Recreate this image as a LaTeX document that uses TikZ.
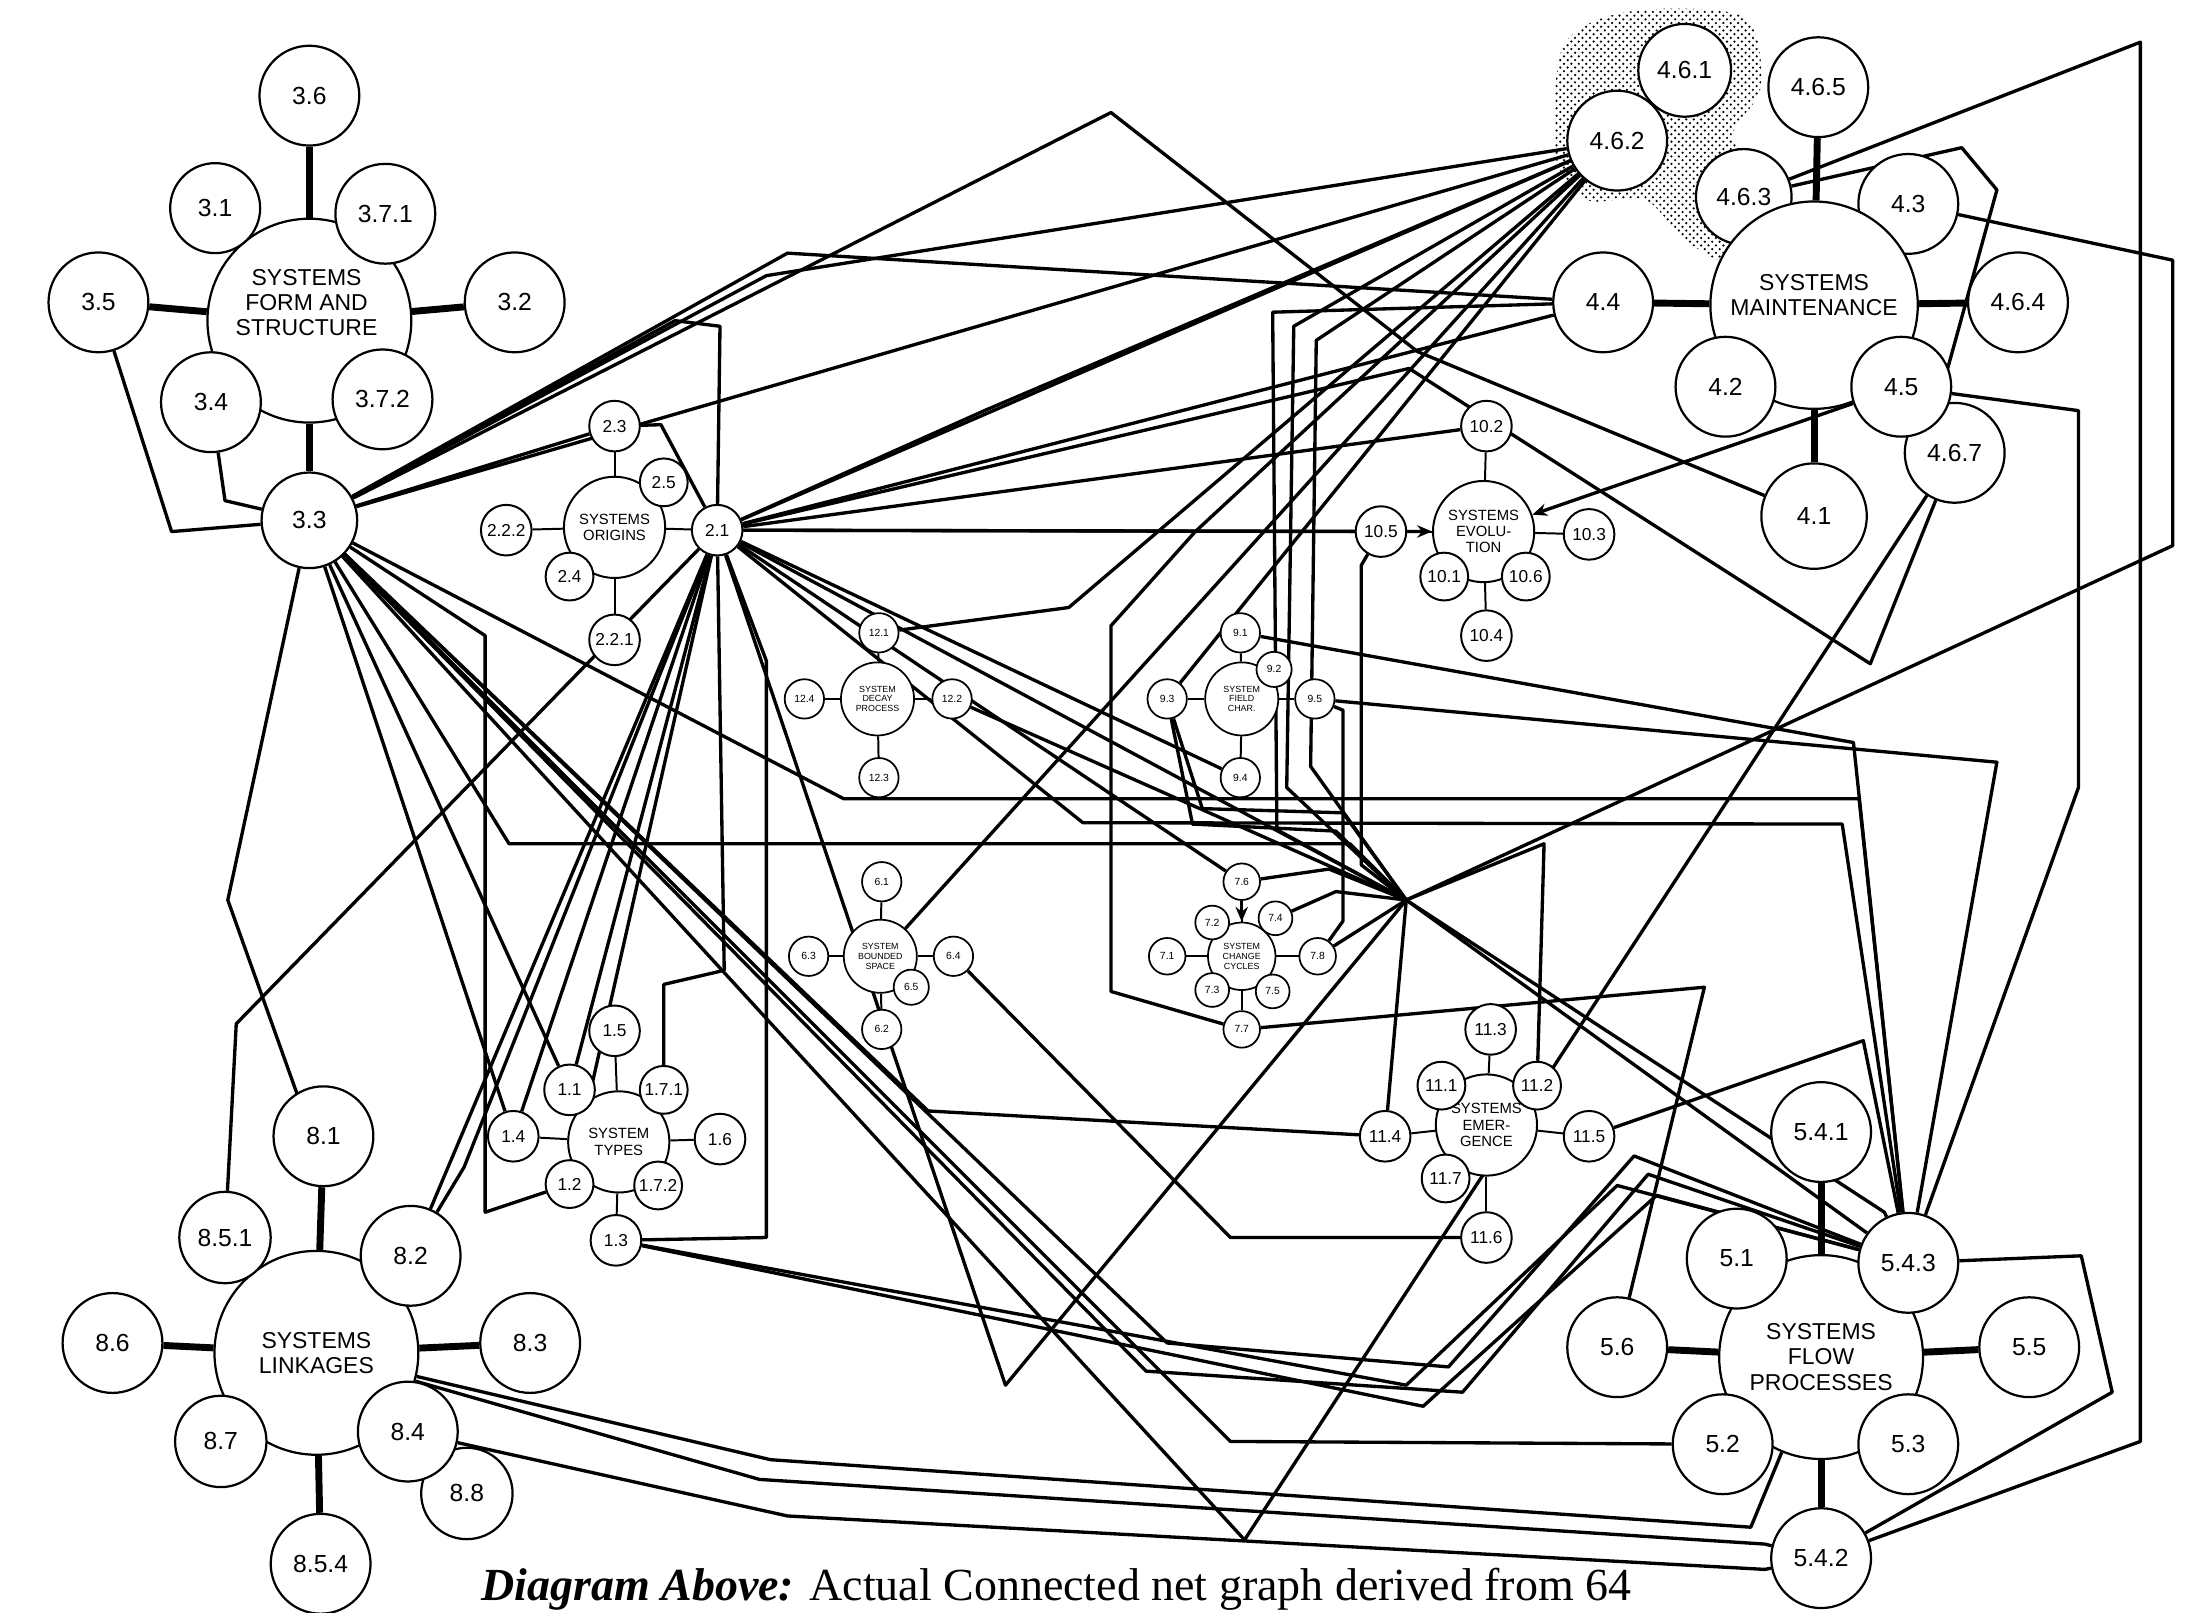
\documentclass[tikz,border=0pt]{standalone}
\usepackage{fontspec}
\setmainfont{Liberation Serif}
\newfontfamily\lblfont{Liberation Sans}
\usetikzlibrary{arrows.meta,patterns,backgrounds}

\tikzset{
  hubc/.style={circle, draw, fill=white, line width=0.9pt, minimum size=2.9cm,
               inner sep=0pt, align=center, font=\lblfont\fontsize{9.3}{10.2}\selectfont},
  hubtxt/.style={align=center, inner sep=0pt, font=\lblfont\fontsize{9.3}{10.2}\selectfont},
  satc/.style={circle, draw, fill=white, line width=0.9pt, minimum size=1.42cm,
               inner sep=0pt, font=\lblfont\fontsize{10}{10}\selectfont},
  midc/.style={circle, draw, fill=white, line width=0.8pt, minimum size=1.44cm,
               inner sep=0pt, align=center, font=\lblfont\fontsize{6}{6.6}\selectfont},
  midsat/.style={circle, draw, fill=white, line width=0.8pt, minimum size=0.72cm,
               inner sep=0pt, font=\lblfont\fontsize{7}{7}\selectfont},
  tinyc/.style={circle, draw, fill=white, line width=0.7pt, minimum size=1.04cm,
               inner sep=0pt, align=center, font=\lblfont\fontsize{3.6}{4}\selectfont},
  tinysat/.style={circle, draw, fill=white, line width=0.7pt, minimum size=0.56cm,
               inner sep=0pt, font=\lblfont\fontsize{4.2}{4.2}\selectfont},
  spoke/.style={line width=2.8pt},
  thinspoke/.style={line width=0.8pt},
  link/.style={line width=1.35pt, line join=round},
  linkarr/.style={link, -{Stealth[length=6pt, width=5pt]}},
}

\begin{document}
\begin{tikzpicture}[x=0.02cm, y=-0.02cm]
\useasboundingbox (0,0) rectangle (1568,1147);

% === Cluster 3: form and structure ===
\node[hubc] (n3) at (220,228) {};
\node[satc] (n3-6) at (220,68) {3.6};
\node[satc, minimum size=1.28cm] (n3-1) at (153,148) {3.1};
\node[satc] (n3-7-1) at (274,152) {3.7.1};
\node[satc] (n3-5) at (70,215) {3.5};
\node[satc] (n3-2) at (366,215) {3.2};
\node[satc] (n3-4) at (150,286) {3.4};
\node[satc] (n3-7-2) at (272,284) {3.7.2};
\node[satc, minimum size=1.36cm] (n3-3) at (220,370) {3.3};
\node[hubtxt] (n3t) at (218,215) {SYSTEMS\\FORM AND\\STRUCTURE};

% === Cluster 4: maintenance ===
\node[satc, minimum size=1.36cm] (n4-6-3) at (1240,140) {4.6.3};
\node[satc] (n4-3) at (1357,145) {4.3};
\node[hubc, minimum size=2.95cm] (n4) at (1290,217) {};
\node[hubtxt] (n4t) at (1290,210) {SYSTEMS\\MAINTENANCE};
\node[satc] (n4-6-5) at (1293,62) {4.6.5};
\node[satc, minimum size=1.32cm] (n4-6-1) at (1198,50) {4.6.1};
\node[satc] (n4-6-2) at (1150,100) {4.6.2};
\node[satc] (n4-4) at (1140,215) {4.4};
\node[satc] (n4-6-4) at (1435,215) {4.6.4};
\node[satc] (n4-6-7) at (1390,322) {4.6.7};
\node[satc] (n4-2) at (1227,275) {4.2};
\node[satc] (n4-5) at (1352,275) {4.5};
\node[satc, minimum size=1.5cm] (n4-1) at (1290,367) {4.1};

% === Cluster 5: flow processes ===
\node[hubc] (n5) at (1295,965) {SYSTEMS\\FLOW\\PROCESSES};
\node[satc] (n5-4-1) at (1295,805) {5.4.1};
\node[satc] (n5-1) at (1235,895) {5.1};
\node[satc] (n5-4-3) at (1357,898) {5.4.3};
\node[satc] (n5-6) at (1150,958) {5.6};
\node[satc] (n5-5) at (1443,958) {5.5};
\node[satc] (n5-2) at (1225,1027) {5.2};
\node[satc] (n5-3) at (1357,1027) {5.3};
\node[satc] (n5-4-2) at (1295,1108) {5.4.2};

% === Cluster 8: linkages ===
\node[hubc] (n8) at (225,962) {SYSTEMS\\LINKAGES};
\node[satc] (n8-1) at (230,808) {8.1};
\node[satc, minimum size=1.3cm] (n8-5-1) at (160,880) {8.5.1};
\node[satc] (n8-2) at (292,893) {8.2};
\node[satc] (n8-6) at (80,955) {8.6};
\node[satc] (n8-3) at (377,955) {8.3};
\node[satc, minimum size=1.3cm] (n8-7) at (157,1025) {8.7};
\node[satc, minimum size=1.3cm] (n8-8) at (332,1062) {8.8};
\node[satc] (n8-4) at (290,1018) {8.4};
\node[satc] (n8-5-4) at (228,1112) {8.5.4};

% === Cluster 2: origins ===
\node[midc] (n2) at (437,375) {SYSTEMS\\ORIGINS};
\node[midsat] (n2-3) at (437,303) {2.3};
\node[midsat, minimum size=0.68cm] (n2-5) at (472,343) {2.5};
\node[midsat] (n2-2-2) at (360,377) {2.2.2};
\node[midsat] (n2-1) at (510,377) {2.1};
\node[midsat, minimum size=0.68cm] (n2-4) at (405,410) {2.4};
\node[midsat] (n2-2-1) at (437,455) {2.2.1};

% === Cluster 10: evolution ===
\node[midc] (n10) at (1055,378) {SYSTEMS\\EVOLU-\\TION};
\node[midsat] (n10-2) at (1057,303) {10.2};
\node[midsat] (n10-5) at (982,378) {10.5};
\node[midsat] (n10-3) at (1130,380) {10.3};
\node[midsat, minimum size=0.68cm] (n10-1) at (1027,410) {10.1};
\node[midsat, minimum size=0.68cm] (n10-6) at (1085,410) {10.6};
\node[midsat] (n10-4) at (1057,452) {10.4};

% === Cluster 11: emergence ===
\node[midc] (n11) at (1057,800) {SYSTEMS\\EMER-\\GENCE};
\node[midsat] (n11-3) at (1060,732) {11.3};
\node[midsat, minimum size=0.68cm] (n11-1) at (1025,772) {11.1};
\node[midsat, minimum size=0.68cm] (n11-2) at (1093,772) {11.2};
\node[midsat] (n11-4) at (985,808) {11.4};
\node[midsat] (n11-5) at (1130,808) {11.5};
\node[midsat, minimum size=0.68cm] (n11-7) at (1028,838) {11.7};
\node[midsat] (n11-6) at (1057,880) {11.6};

% === Cluster 1: types ===
\node[midc] (n1) at (440,812) {SYSTEM\\TYPES};
\node[midsat] (n1-5) at (437,733) {1.5};
\node[midsat] (n1-1) at (405,775) {1.1};
\node[midsat, minimum size=0.68cm] (n1-7-1) at (472,775) {1.7.1};
\node[midsat] (n1-4) at (365,808) {1.4};
\node[midsat] (n1-6) at (512,810) {1.6};
\node[midsat, minimum size=0.68cm] (n1-2) at (405,842) {1.2};
\node[midsat, minimum size=0.68cm] (n1-7-2) at (468,843) {1.7.2};
\node[midsat] (n1-3) at (438,882) {1.3};

% === Small clusters 12, 9, 6, 7 ===
\node[tinyc] (n12) at (624,497) {SYSTEM\\DECAY\\PROCESS};
\node[tinysat] (n12-1) at (625,450) {12.1};
\node[tinysat] (n12-4) at (572,497) {12.4};
\node[tinysat] (n12-2) at (677,497) {12.2};
\node[tinysat] (n12-3) at (625,553) {12.3};

\node[tinyc] (n9) at (883,497) {SYSTEM\\FIELD\\CHAR.};
\node[tinysat] (n9-1) at (882,450) {9.1};
\node[tinysat, minimum size=0.5cm] (n9-2) at (906,476) {9.2};
\node[tinysat] (n9-3) at (830,497) {9.3};
\node[tinysat] (n9-5) at (935,497) {9.5};
\node[tinysat] (n9-4) at (882,553) {9.4};

\node[tinyc] (n6) at (626,680) {SYSTEM\\BOUNDED\\SPACE};
\node[tinysat] (n6-1) at (627,627) {6.1};
\node[tinysat] (n6-3) at (575,680) {6.3};
\node[tinysat] (n6-4) at (678,680) {6.4};
\node[tinysat, minimum size=0.5cm] (n6-5) at (648,702) {6.5};
\node[tinysat] (n6-2) at (627,732) {6.2};

\node[tinyc, minimum size=0.96cm] (n7) at (883,680) {SYSTEM\\CHANGE\\CYCLES};
\node[tinysat, minimum size=0.52cm] (n7-6) at (883,627) {7.6};
\node[tinysat, minimum size=0.48cm] (n7-2) at (862,656) {7.2};
\node[tinysat, minimum size=0.48cm] (n7-4) at (907,653) {7.4};
\node[tinysat, minimum size=0.52cm] (n7-1) at (830,680) {7.1};
\node[tinysat, minimum size=0.52cm] (n7-8) at (937,680) {7.8};
\node[tinysat, minimum size=0.48cm] (n7-3) at (862,704) {7.3};
\node[tinysat, minimum size=0.48cm] (n7-5) at (905,705) {7.5};
\node[tinysat, minimum size=0.52cm] (n7-7) at (883,732) {7.7};

\coordinate (hub) at (1000,640);

% === Spokes ===
\foreach \c/\s in {n3/n3-6, n3/n3-5, n3/n3-2, n3/n3-3, n4/n4-6-5, n4/n4-4, n4/n4-6-4, n4/n4-1,
                   n5/n5-4-1, n5/n5-6, n5/n5-5, n5/n5-4-2, n8/n8-1, n8/n8-6, n8/n8-3, n8/n8-5-4}
  \draw[spoke] (\c) -- (\s);
\foreach \c/\s in {n2/n2-3, n2/n2-2-2, n2/n2-1, n2/n2-2-1, n10/n10-2, n10/n10-5, n10/n10-3, n10/n10-4,
                   n11/n11-3, n11/n11-4, n11/n11-5, n11/n11-6, n1/n1-5, n1/n1-4, n1/n1-6, n1/n1-3,
                   n12/n12-1, n12/n12-4, n12/n12-2, n12/n12-3, n9/n9-1, n9/n9-3, n9/n9-5, n9/n9-4,
                   n6/n6-1, n6/n6-3, n6/n6-4, n6/n6-2, n7/n7-6, n7/n7-1, n7/n7-8, n7/n7-7}
  \draw[thinspoke] (\c) -- (\s);

\begin{scope}[on background layer]
% shaded patch round 4.6.1 / 4.6.2 / 4.6.3
\fill[pattern=crosshatch dots, pattern color=black]
  plot[smooth cycle] coordinates {(1112,32) (1160,8) (1240,12) (1252,62) (1232,98) (1266,122)
                                  (1280,172) (1242,192) (1200,172) (1170,142) (1128,142) (1106,110)};

% === Links from 3.3 ===
\draw[link] (n3-5) -- (122,378) -- (n3-3);
\draw[link] (n3-4) -- (160,356) -- (n3-3);
\draw[link] (n3-3) -- (162,640) -- (212,780) -- (n8-1);
\draw[link] (n3-3) -- (n4-6-2);
\draw[link] (n3-3) -- (545,196) -- (n4-6-2);
\draw[link] (n3-3) -- (560,180) -- (n4-4);
\draw[link] (n3-3) -- (790,80) -- (1008,250) -- (n4-1);
\draw[link] (n3-3) -- (480,228) -- (512,232) -- (n2-1);
\draw[link] (n2-3) -- (n3-3);
\draw[link] (n2-3) -- (470,302) -- (n2-1);
\draw[link] (n3-3) -- (n1-4);
\draw[link] (n3-3) -- (n1-1);
\draw[link] (n3-3) -- (345,452) -- (345,862) -- (n1-2);
\draw[link] (n3-3) -- (362,600) -- (960,600) -- (hub);
\draw[link] (n3-3) -- (600,568) -- (1322,568) -- (n5-4-3);
\draw[link] (n3-3) -- (660,790) -- (n11-4);
\draw[link] (n3-3) -- (875,1025) -- (n5-2);
\draw[link] (n3-3) -- (830,955) -- (1030,972) -- (1162,822) -- (n5-4-3);
\draw[link] (n3-3) -- (815,975) -- (1040,990) -- (1172,835) -- (n5-4-3);
\draw[link] (n3-3) -- (885,1095) -- (n4-6-7);

% === Links from 2.1 ===
\draw[link] (n2-1) -- (n4-6-2);
\draw[link] (n2-1) -- (700,292) -- (n4-6-2);
\draw[link] (n2-1) -- (n4-4);
\draw[link] (n2-1) -- (n10-2);
\draw[linkarr] (n2-1) -- (n10);
\draw[link] (n2-1) -- (n10-5);
\draw[link] (n2-1) -- (1002,262) -- (1330,472) -- (n4-6-7);
\draw[link] (n2-1) -- (715,985) -- (hub);
\draw[link] (n2-1) -- (hub) -- (n5-4-3);
\draw[link] (n2-1) -- (770,585) -- (1310,586) -- (n5-4-3);
\draw[link] (n2-1) -- (545,470) -- (545,880) -- (n1-3);
\draw[link] (n2-1) -- (515,690) -- (472,700) -- (n1-7-1);
\draw[link] (n2-1) -- (n7-6);
\draw[link] (n2-1) -- (n9-4);
\draw[link] (n2-1) -- (n8-2);
\draw[link] (n2-1) -- (330,830) -- (n8-2);
\draw[link] (n2-1) -- (168,728) -- (n8-5-1);
\draw[link] (n2-1) -- (n1-4);
\draw[link] (n2-1) -- (n1-1);
\draw[link] (n2-1) -- (n1-2);

% === Links from 4.x ===
\draw[link] (n4-6-2) -- (n6);
\draw[link] (n4-6-2) -- (n9-3);
\draw[link] (n4-6-2) -- (920,232) -- (915,560) -- (hub);
\draw[link] (n4-6-2) -- (936,242) -- (932,545) -- (hub);
\draw[link] (n4-6-2) -- (850,378) -- (790,445) -- (790,705) -- (n7-7);
\draw[link] (n4-6-2) -- (760,432) -- (n12-1);
\draw[link] (n4-4) -- (905,222) -- (908,590) -- (hub);
\draw[link] (n4-6-3) -- (1395,105) -- (1420,135) -- (1385,262) -- (n4-5);
\draw[link] (n4-6-3) -- (1522,30) -- (1522,1025) -- (n5-4-2);
\draw[link] (n4-3) -- (1545,185) -- (1545,388) -- (hub);
\draw[link] (n4-5) -- (1478,292) -- (1478,560) -- (n5-4-3);
\draw[linkarr] (n4-5) -- (n10);

% === Links in the middle ===
\draw[link] (n9-3) -- (855,575) -- (955,578) -- (hub);
\draw[link] (n9-3) -- (848,586) -- (950,591) -- (hub);
\draw[link] (n9-1) -- (1318,528) -- (n5-4-3);
\draw[link] (n9-5) -- (1420,542) -- (n5-4-3);
\draw[link] (n7-8) -- (955,655) -- (955,505) -- (n9-5);
\draw[link] (n7-6) -- (945,618) -- (hub);
\draw[link] (n7-4) -- (950,634) -- (hub);
\draw[link] (n7-8) -- (hub);
\draw[linkarr] (n7-6) -- (n7);
\draw[linkarr] (n7-4) -- (n7-3);
\draw[link] (n5-6) -- (1212,702) -- (n7-7);
\draw[link] (n12-2) -- (hub);
\draw[link] (n10-5) -- (968,402) -- (968,615) -- (hub);
\draw[link] (n11-4) -- (hub);
\draw[link] (n11-2) -- (1098,600) -- (hub);
\draw[link] (n11-5) -- (1325,740) -- (n5-4-3);
\draw[link] (n11-6) -- (875,880) -- (n6-4);
\draw[link] (hub) -- (1340,862) -- (n5-4-3);

% === Links along the bottom ===
\draw[link] (n1-3) -- (1000,985) -- (1150,843) -- (n5-4-3);
\draw[link] (n1-3) -- (1012,1000) -- (1178,850) -- (n5-4-3);
\draw[link] (n8) -- (540,1052) -- (1255,1098) -- (n5-4-2);
\draw[link] (n8-4) -- (560,1078) -- (1255,1116) -- (n5-4-2);
\draw[link] (n8) -- (548,1038) -- (1245,1086) -- (n5);
\draw[link] (n5-4-3) -- (1480,893) -- (1502,990) -- (n5-4-2);
\end{scope}

% === Caption ===
\node[anchor=base west, inner sep=0pt, font=\fontsize{18.6}{18.6}\selectfont] (cap) at (342,1138)
  {\textbf{\textit{Diagram Above:}} Actual Connected net graph derived from 64};
\end{tikzpicture}
\end{document}
